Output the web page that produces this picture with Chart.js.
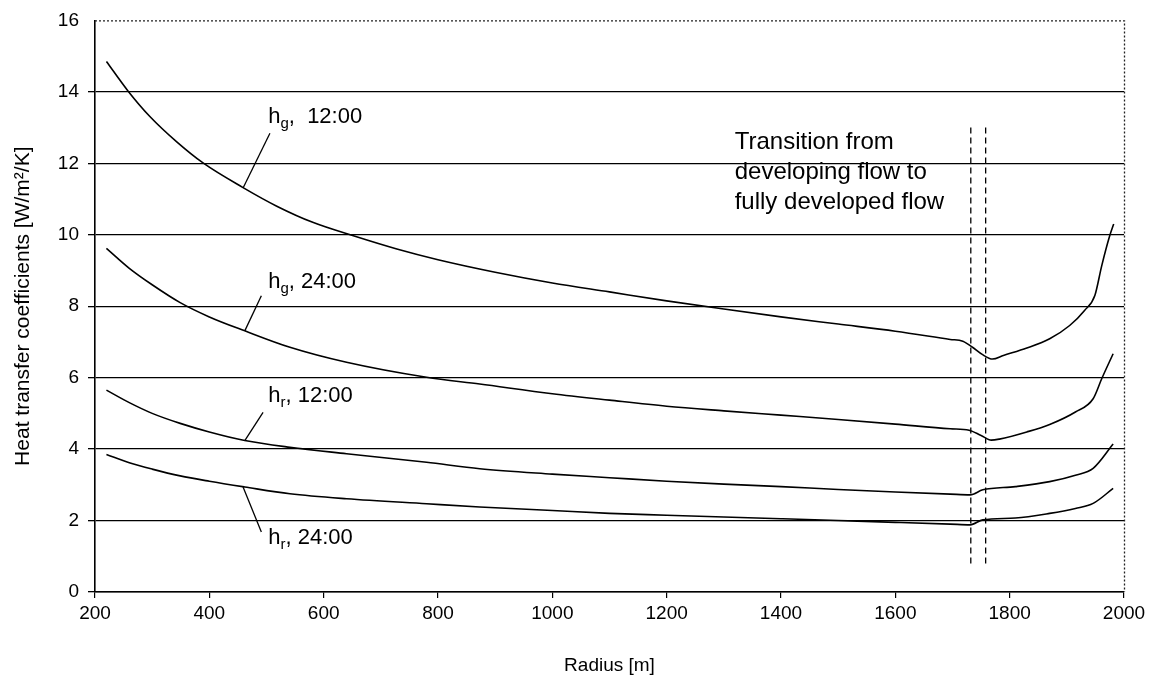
<!DOCTYPE html>
<html>
<head>
<meta charset="utf-8">
<script src="https://cdn.jsdelivr.net/npm/chart.js@4/dist/chart.umd.min.js"></script>
<style>
  html, body { margin: 0; padding: 0; background: #fff; }
  #wrap { width: 1157px; height: 683px; }
</style>
</head>
<body>
<div id="wrap"><canvas id="c" width="1157" height="683"></canvas></div>
<script>
// Radius [m] and heat transfer coefficients [W/m²/K]
const radiusHg12 = [220, 258, 296, 343, 389, 459, 518, 582, 652, 728, 800, 900, 1000, 1100, 1200, 1300, 1400, 1500, 1600, 1696, 1718, 1735, 1752, 1770, 1789, 1830, 1870, 1905, 1931, 1949, 1961, 1975, 1982];
const hg12 = [14.85, 14.02, 13.31, 12.6, 12.01, 11.32, 10.8, 10.34, 9.97, 9.6, 9.3, 8.95, 8.65, 8.4, 8.15, 7.92, 7.7, 7.5, 7.3, 7.07, 7.02, 6.85, 6.65, 6.52, 6.62, 6.83, 7.09, 7.46, 7.88, 8.3, 9.13, 9.97, 10.3];

const radiusHg24 = [220, 260, 300, 349, 400, 462, 541, 640, 780, 873, 1000, 1100, 1200, 1300, 1400, 1500, 1600, 1696, 1729, 1750, 1768, 1782, 1830, 1870, 1915, 1946, 1961, 1981];
const hg24 = [9.62, 9.06, 8.6, 8.1, 7.7, 7.31, 6.85, 6.43, 6.01, 5.82, 5.55, 5.37, 5.2, 5.07, 4.95, 4.83, 4.7, 4.57, 4.53, 4.38, 4.25, 4.28, 4.48, 4.69, 5.04, 5.41, 5.97, 6.67];

const radiusHr = [220, 260, 300, 349, 400, 462, 541, 640, 780, 873, 1000, 1100, 1200, 1300, 1400, 1500, 1600, 1696, 1731, 1753, 1810, 1870, 1915, 1946, 1981];
const hr12 = [5.65, 5.3, 5.0, 4.72, 4.48, 4.24, 4.05, 3.87, 3.63, 3.45, 3.3, 3.2, 3.1, 3.02, 2.95, 2.87, 2.8, 2.74, 2.72, 2.86, 2.95, 3.09, 3.27, 3.46, 4.14];
const hr24 = [3.85, 3.62, 3.44, 3.25, 3.1, 2.94, 2.75, 2.61, 2.47, 2.38, 2.28, 2.2, 2.15, 2.1, 2.05, 2.0, 1.95, 1.9, 1.88, 2.02, 2.07, 2.2, 2.34, 2.48, 2.9];

// Transition zone between developing and fully developed flow
const transitionRadii = [1732, 1758];
const transitionSpan = [13.0, 0.75];

// Curve labels: [base, subscript, rest], text anchor and leader line (data units)
const curveLabels = [
  { parts: ['h', 'g', ',  12:00'], at: [503, 13.12], leader: [[506, 12.84], [459, 11.31]] },
  { parts: ['h', 'g', ', 24:00'], at: [503, 8.5], leader: [[491, 8.29], [462, 7.31]] },
  { parts: ['h', 'r', ', 12:00'], at: [503, 5.31], leader: [[494, 5.03], [462, 4.24]] },
  { parts: ['h', 'r', ', 24:00'], at: [503, 1.35], leader: [[459, 2.94], [491, 1.68]] }
];
const transitionText = ['Transition from', 'developing flow to', 'fully developed flow'];
const transitionTextAt = [1319, [12.39, 11.55, 10.71]];

const xTicks = { min: 200, max: 2000, step: 200 };
const yTicks = { min: 0, max: 16, step: 2 };

const FONT = "'Liberation Sans', Arial, sans-serif";

const toPoints = (xs, ys) => xs.map((x, i) => ({ x: x, y: ys[i] }));

const curveStyle = {
  borderColor: '#000', borderWidth: 1.6, pointRadius: 0, fill: false,
  cubicInterpolationMode: 'monotone'
};

const datasets = [
  Object.assign({ label: 'hg 12:00', data: toPoints(radiusHg12, hg12) }, curveStyle),
  Object.assign({ label: 'hg 24:00', data: toPoints(radiusHg24, hg24) }, curveStyle),
  Object.assign({ label: 'hr 12:00', data: toPoints(radiusHr, hr12) }, curveStyle),
  Object.assign({ label: 'hr 24:00', data: toPoints(radiusHr, hr24) }, curveStyle)
];
transitionRadii.forEach((r, i) => {
  datasets.push({
    label: 'transition ' + i,
    data: transitionSpan.map(v => ({ x: r, y: v })),
    borderColor: '#000', borderWidth: 1.3, borderDash: [6, 4], pointRadius: 0, tension: 0
  });
});
curveLabels.forEach((c, i) => {
  datasets.push({
    label: 'leader ' + i,
    data: c.leader.map(p => ({ x: p[0], y: p[1] })),
    borderColor: '#000', borderWidth: 1.3, pointRadius: 0, tension: 0
  });
});

// Dotted plot-area frame on top and right, plus the text annotations
const framePlugin = {
  id: 'frameAndText',
  afterDatasetsDraw(chart) {
    const { ctx, chartArea: a, scales } = chart;
    ctx.save();
    ctx.strokeStyle = '#222';
    ctx.lineWidth = 1.3;
    ctx.setLineDash([2, 2]);
    ctx.beginPath();
    ctx.moveTo(a.left, a.top + 0.5);
    ctx.lineTo(a.right + 0.5, a.top + 0.5);
    ctx.lineTo(a.right + 0.5, a.bottom);
    ctx.stroke();
    ctx.setLineDash([]);

    ctx.fillStyle = '#000';
    ctx.textBaseline = 'alphabetic';
    ctx.textAlign = 'left';
    curveLabels.forEach(c => {
      let x = scales.x.getPixelForValue(c.at[0]);
      const y = scales.y.getPixelForValue(c.at[1]);
      ctx.font = '22px ' + FONT;
      ctx.fillText(c.parts[0], x, y);
      x += ctx.measureText(c.parts[0]).width;
      ctx.font = '15px ' + FONT;
      ctx.fillText(c.parts[1], x, y + 5);
      x += ctx.measureText(c.parts[1]).width;
      ctx.font = '22px ' + FONT;
      ctx.fillText(c.parts[2], x, y);
    });

    ctx.font = '24px ' + FONT;
    const tx = scales.x.getPixelForValue(transitionTextAt[0]);
    transitionText.forEach((line, i) => {
      ctx.fillText(line, tx, scales.y.getPixelForValue(transitionTextAt[1][i]));
    });
    ctx.restore();
  }
};

new Chart(document.getElementById('c'), {
  type: 'line',
  data: { datasets: datasets },
  options: {
    responsive: false,
    devicePixelRatio: 1,
    animation: false,
    layout: { padding: { left: 0, top: 19, right: 33, bottom: 0 } },
    plugins: { legend: { display: false }, tooltip: { enabled: false } },
    scales: {
      x: {
        type: 'linear',
        min: xTicks.min, max: xTicks.max,
        ticks: { stepSize: xTicks.step, color: '#000', font: { family: FONT, size: 19 }, padding: 4, maxRotation: 0,
                 callback: v => String(v) },
        grid: { drawOnChartArea: false, drawTicks: true, tickLength: 6, color: '#000', lineWidth: 1.2 },
        border: { display: true, color: '#000', width: 1.6 },
        title: { display: true, text: 'Radius [m]', color: '#000', font: { family: FONT, size: 19 }, padding: { top: 0, bottom: 6 } },
        afterFit: s => { s.height = 91; }
      },
      y: {
        min: yTicks.min, max: yTicks.max,
        ticks: { stepSize: yTicks.step, color: '#000', font: { family: FONT, size: 19 }, padding: 9 },
        grid: {
          drawTicks: true, tickLength: 7, lineWidth: 1.3,
          color: c => (c.tick && c.tick.value === yTicks.max) ? 'rgba(0,0,0,0)' : '#000'
        },
        border: { display: true, color: '#000', width: 1.6 },
        title: { display: true, text: 'Heat transfer coefficients [W/m²/K]', color: '#000', font: { family: FONT, size: 21 }, padding: { top: 11, bottom: 0 } },
        afterFit: s => { s.width = 95; }
      }
    }
  },
  plugins: [framePlugin]
});
</script>
</body>
</html>
